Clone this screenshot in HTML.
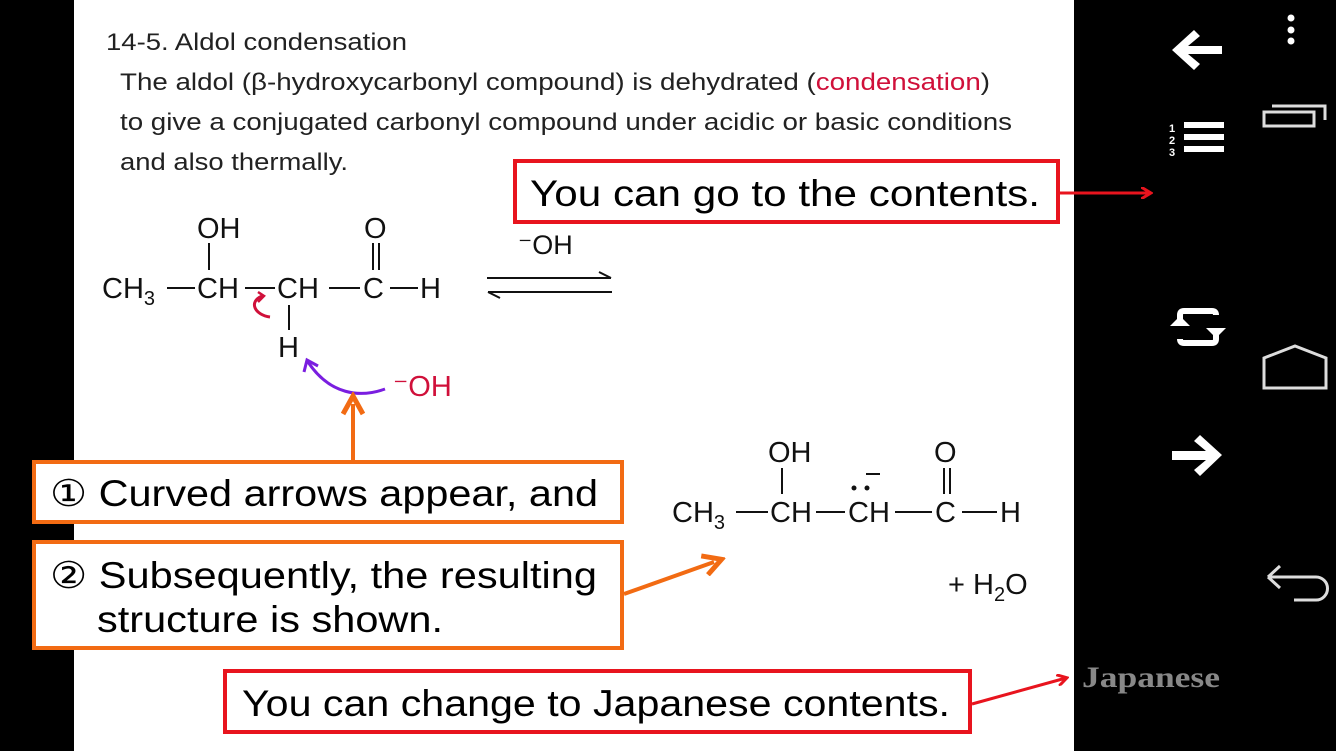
<!DOCTYPE html>
<html><head><style>
html,body{margin:0;padding:0;background:#000;}
svg{display:block}
</style></head><body>
<svg width="1336" height="751" viewBox="0 0 1336 751" xmlns="http://www.w3.org/2000/svg" font-family="Liberation Sans, sans-serif">
<defs>
<marker id="ar" markerWidth="12" markerHeight="12" refX="9" refY="6" orient="auto" markerUnits="userSpaceOnUse"><path d="M0,0 L10,6 L0,12" fill="none" stroke="#e8141e" stroke-width="3"/></marker>
<marker id="ao" markerWidth="24" markerHeight="24" refX="12" refY="12" orient="auto" markerUnits="userSpaceOnUse"><path d="M2,2 L20,12 L2,22" fill="none" stroke="#f26b13" stroke-width="5"/></marker>
</defs>
<rect x="0" y="0" width="1336" height="751" fill="#000"/>
<rect x="74" y="0" width="1000" height="751" fill="#fff"/>
<text x="106" y="50" font-size="24" fill="#222" textLength="301" lengthAdjust="spacingAndGlyphs">14-5. Aldol condensation</text>
<text x="120" y="90" font-size="24" fill="#222" textLength="870" lengthAdjust="spacingAndGlyphs">The aldol (β-hydroxycarbonyl compound) is dehydrated (<tspan fill="#d0103a">condensation</tspan>)</text>
<text x="120" y="130" font-size="24" fill="#222" textLength="892" lengthAdjust="spacingAndGlyphs">to give a conjugated carbonyl compound under acidic or basic conditions</text>
<text x="120" y="170" font-size="24" fill="#222" textLength="228" lengthAdjust="spacingAndGlyphs">and also thermally.</text>
<g font-size="29" fill="#111">
<text x="197" y="238">OH</text>
<text x="364" y="238">O</text>
<text x="102" y="298">CH<tspan font-size="20" dy="7">3</tspan></text>
<text x="197" y="298">CH</text>
<text x="277" y="298">CH</text>
<text x="363" y="298">C</text>
<text x="420" y="298">H</text>
<text x="278" y="357">H</text>
<text x="518" y="254" font-size="27">⁻OH</text>
</g>
<g stroke="#111" stroke-width="2" fill="none">
<line x1="209" y1="243" x2="209" y2="270"/>
<line x1="373" y1="243" x2="373" y2="270"/><line x1="379" y1="243" x2="379" y2="270"/>
<line x1="167" y1="288" x2="195" y2="288"/>
<line x1="245" y1="288" x2="275" y2="288"/>
<line x1="329" y1="288" x2="360" y2="288"/>
<line x1="390" y1="288" x2="418" y2="288"/>
<line x1="289" y1="305" x2="289" y2="330"/>
<path d="M487,278 H611 M599,272 L611,278"/>
<path d="M612,292 H488 M500,298 L488,292"/>
</g>
<path d="M270,317 C255,315 248,302 262,296" fill="none" stroke="#d0103a" stroke-width="3"/>
<path d="M258,292 L264,296 L258,302" fill="none" stroke="#d0103a" stroke-width="2.5"/>
<path d="M385,389 C360,398 330,395 308,362" fill="none" stroke="#7a1ee0" stroke-width="3"/>
<path d="M304,372 L307,360 L318,366" fill="none" stroke="#7a1ee0" stroke-width="3"/>
<text x="393" y="396" font-size="29" fill="#d0103a">⁻OH</text>
<g font-size="29" fill="#111">
<text x="768" y="462">OH</text>
<text x="934" y="462">O</text>
<text x="672" y="522">CH<tspan font-size="20" dy="7">3</tspan></text>
<text x="770" y="522">CH</text>
<text x="848" y="522">CH</text>
<text x="935" y="522">C</text>
<text x="1000" y="522">H</text>
<text x="948" y="594">+ H<tspan font-size="20" dy="7">2</tspan><tspan dy="-7">O</tspan></text>
</g>
<g stroke="#111" stroke-width="2" fill="none">
<line x1="782" y1="468" x2="782" y2="494"/>
<line x1="944" y1="468" x2="944" y2="494"/><line x1="950" y1="468" x2="950" y2="494"/>
<line x1="736" y1="512" x2="768" y2="512"/>
<line x1="816" y1="512" x2="845" y2="512"/>
<line x1="895" y1="512" x2="932" y2="512"/>
<line x1="962" y1="512" x2="997" y2="512"/>
<line x1="866" y1="474" x2="880" y2="474"/>
</g>
<circle cx="854" cy="488" r="2.5" fill="#111"/><circle cx="867" cy="488" r="2.5" fill="#111"/>
<rect x="515" y="161" width="543" height="61" fill="#fff" stroke="#e8141e" stroke-width="4"/>
<text x="530" y="206" font-size="37" fill="#000" textLength="510" lengthAdjust="spacingAndGlyphs">You can go to the contents.</text>
<line x1="1060" y1="193" x2="1150" y2="193" stroke="#e8141e" stroke-width="3" marker-end="url(#ar)"/>
<rect x="34" y="462" width="588" height="60" fill="#fff" stroke="#f26b13" stroke-width="4"/>
<text x="50" y="506" font-size="37" fill="#000" textLength="548" lengthAdjust="spacingAndGlyphs">① Curved arrows appear, and</text>
<line x1="353" y1="460" x2="353" y2="404" stroke="#f26b13" stroke-width="4" marker-end="url(#ao)"/>
<rect x="34" y="542" width="588" height="106" fill="#fff" stroke="#f26b13" stroke-width="4"/>
<text x="50" y="588" font-size="37" fill="#000" textLength="547" lengthAdjust="spacingAndGlyphs">② Subsequently, the resulting</text>
<text x="97" y="632" font-size="37" fill="#000" textLength="346" lengthAdjust="spacingAndGlyphs">structure is shown.</text>
<line x1="624" y1="594" x2="714" y2="562" stroke="#f26b13" stroke-width="4" marker-end="url(#ao)"/>
<rect x="225" y="671" width="745" height="61" fill="#fff" stroke="#e8141e" stroke-width="4"/>
<text x="242" y="716" font-size="37" fill="#000" textLength="708" lengthAdjust="spacingAndGlyphs">You can change to Japanese contents.</text>
<line x1="972" y1="704" x2="1066" y2="678" stroke="#e8141e" stroke-width="3" marker-end="url(#ar)"/>
<g fill="#fff">
<path d="M1172,50 L1194,30 L1200,36 L1188,46 L1222,46 L1222,54 L1188,54 L1200,64 L1194,70 Z"/>
<path d="M1222,455 L1200,435 L1194,441 L1206,451 L1172,451 L1172,460 L1206,460 L1194,470 L1200,476 Z"/>
<rect x="1184" y="122" width="40" height="6"/><rect x="1184" y="134" width="40" height="6"/><rect x="1184" y="146" width="40" height="6"/>
<circle cx="1291" cy="18" r="3.5"/><circle cx="1291" cy="30" r="3.5"/><circle cx="1291" cy="41" r="3.5"/>
</g>
<g fill="#fff" font-weight="bold" font-size="11">
<text x="1169" y="132">1</text><text x="1169" y="144">2</text><text x="1169" y="156">3</text>
</g>
<g fill="none" stroke="#fff" stroke-width="6">
<path d="M1180,324 V315 Q1180,311 1184,311 H1212 Q1216,311 1216,315"/>
<path d="M1216,330 V339 Q1216,343 1212,343 H1184 Q1180,343 1180,339"/>
</g>
<path d="M1170,326 L1180,316 L1190,326 Z M1206,328 L1216,338 L1226,328 Z" fill="#fff"/>
<g fill="none" stroke="#ddd" stroke-width="3">
<rect x="1264" y="112" width="50" height="14"/>
<path d="M1272,106 H1325 V120"/>
<path d="M1264,388 V358 L1295,346 L1326,358 V388 Z"/>
<path d="M1268,577 H1316 A11,11 0 0 1 1316,600 H1294 M1268,577 L1280,566 M1268,577 L1280,588"/>
</g>
<text x="1082" y="687" style="font-family:'Liberation Serif',serif" font-size="30" font-weight="bold" fill="#888" textLength="138" lengthAdjust="spacingAndGlyphs">Japanese</text>
</svg>
</body></html>
